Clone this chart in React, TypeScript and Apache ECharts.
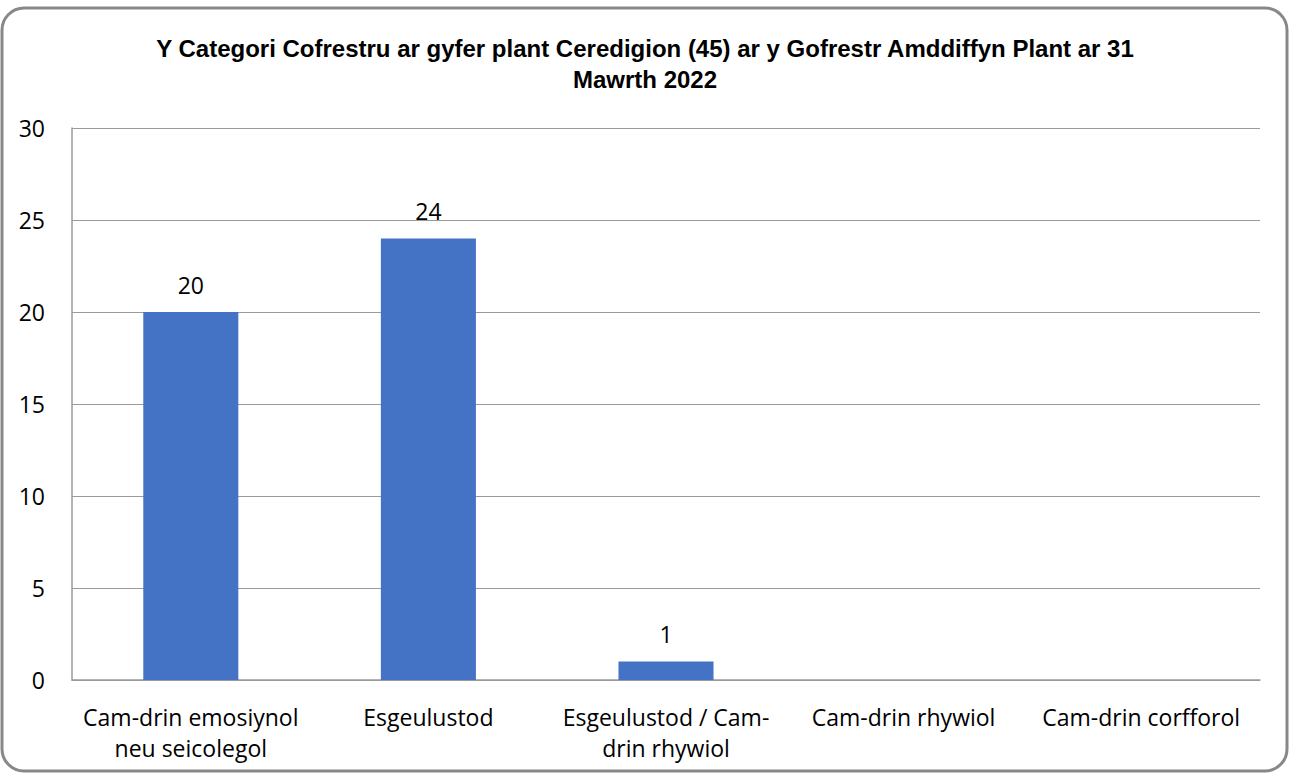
import React, { useEffect, useRef } from "react";
import * as echarts from "echarts";

const titleText = "Y Categori Cofrestru ar gyfer plant Ceredigion (45) ar y Gofrestr Amddiffyn Plant ar 31\nMawrth 2022";
const categories = [
  "Cam-drin emosiynol\nneu seicolegol",
  "Esgeulustod",
  "Esgeulustod / Cam-\ndrin rhywiol",
  "Cam-drin rhywiol",
  "Cam-drin corfforol",
];
const values = [20, 24, 1, null, null];
const yTicks = { min: 0, max: 30, interval: 5 };

export default function App() {
  const ref = useRef<HTMLDivElement>(null);
  useEffect(() => {
    document.body.style.margin = "0";
    const chart = echarts.init(ref.current!, null, { renderer: "svg" });
    chart.setOption({
      animation: false,
      backgroundColor: "#ffffff",
      title: {
        text: titleText,
        left: "center",
        top: 28,
        textStyle: {
          fontFamily: "Liberation Sans, Arial, sans-serif",
          fontWeight: "bold",
          fontSize: 24,
          lineHeight: 31,
          color: "#000000",
        },
      },
      graphic: [
        {
          type: "rect",
          shape: { x: 2, y: 8, width: 1285, height: 763, r: 22 },
          style: { fill: "none", stroke: "#888888", lineWidth: 3 },
          z: 100,
        },
      ],
      grid: { left: 72, right: 30, top: 128, bottom: 93, containLabel: false },
      xAxis: {
        type: "category",
        data: categories,
        axisLine: { show: true, lineStyle: { color: "#9a9a9a", width: 1.5 } },
        axisTick: { show: false },
        axisLabel: {
          interval: 0,
          margin: 21,
          fontFamily: "Open Sans, sans-serif",
          fontSize: 23,
          lineHeight: 31,
          color: "#000000",
        },
      },
      yAxis: {
        type: "value",
        min: yTicks.min,
        max: yTicks.max,
        interval: yTicks.interval,
        axisLine: { show: true, lineStyle: { color: "#9a9a9a", width: 1.5 } },
        axisTick: { show: false },
        splitLine: { show: true, lineStyle: { color: "#9a9a9a", width: 1 } },
        axisLabel: {
          margin: 27,
          fontFamily: "Open Sans, sans-serif",
          fontSize: 23,
          color: "#000000",
        },
      },
      series: [
        {
          type: "bar",
          data: values,
          barWidth: "40%",
          itemStyle: { color: "#4472C4" },
          label: {
            show: true,
            position: "top",
            distance: 16,
            fontFamily: "Open Sans, sans-serif",
            fontSize: 23,
            color: "#000000",
          },
        },
      ],
    });
    return () => chart.dispose();
  }, []);
  return <div ref={ref} style={{ width: 1290, height: 773 }} />;
}
